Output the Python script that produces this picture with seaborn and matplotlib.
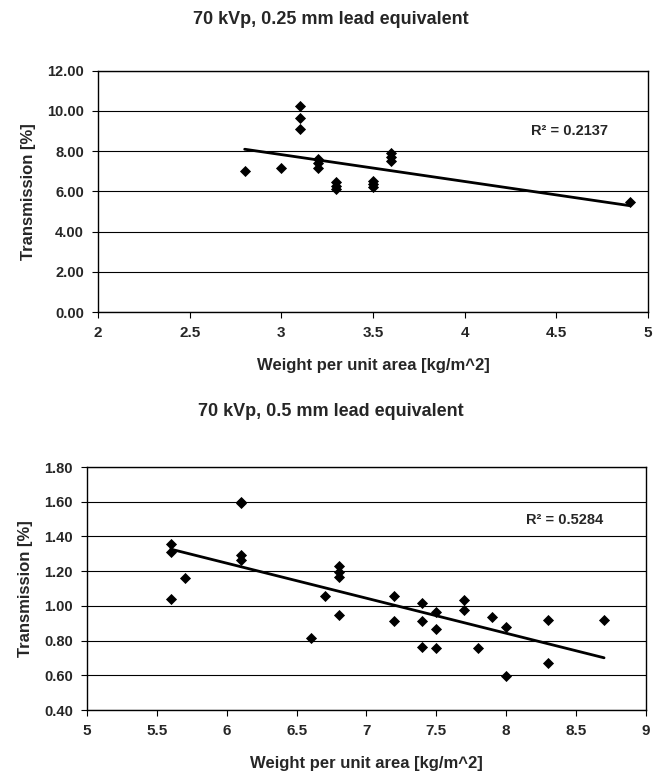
import numpy as np
import pandas as pd
import matplotlib
matplotlib.use("Agg")
import matplotlib.pyplot as plt
import seaborn as sns

# --- Data: 70 kVp, 0.25 mm lead equivalent ---
weight_025 = [2.8, 3.0, 3.1, 3.1, 3.1, 3.2, 3.2, 3.2, 3.3, 3.3, 3.3,
              3.5, 3.5, 3.5, 3.6, 3.6, 3.6, 4.9]
trans_025 = [7.03, 7.14, 10.26, 9.63, 9.07, 7.6, 7.4, 7.15, 6.45, 6.28, 6.1,
             6.5, 6.35, 6.2, 7.9, 7.7, 7.5, 5.45]
r2_025 = "R² = 0.2137"

# --- Data: 70 kVp, 0.5 mm lead equivalent ---
weight_05 = [5.6, 5.6, 5.6, 5.7, 6.1, 6.1, 6.1, 6.1, 6.6, 6.7, 6.8, 6.8, 6.8, 6.8,
             7.2, 7.2, 7.4, 7.4, 7.4, 7.5, 7.5, 7.5, 7.7, 7.7, 7.8, 7.9,
             8.0, 8.0, 8.3, 8.3, 8.7]
trans_05 = [1.357, 1.313, 1.04, 1.161, 1.60, 1.595, 1.294, 1.265, 0.816, 1.056,
            1.232, 1.198, 1.165, 0.95, 1.056, 0.914, 1.019, 0.914, 0.765,
            0.962, 0.866, 0.758, 1.033, 0.975, 0.758, 0.938, 0.877, 0.597,
            0.92, 0.67, 0.92]
r2_05 = "R² = 0.5284"

title_top = "70 kVp, 0.25 mm lead equivalent"
title_bot = "70 kVp, 0.5 mm lead equivalent"
xlabel = "Weight per unit area [kg/m^2]"
ylabel = "Transmission [%]"

xticks_top = [2, 2.5, 3, 3.5, 4, 4.5, 5]
yticks_top = [0, 2, 4, 6, 8, 10, 12]
xticks_bot = [5, 5.5, 6, 6.5, 7, 7.5, 8, 8.5, 9]
yticks_bot = [0.4, 0.6, 0.8, 1.0, 1.2, 1.4, 1.6, 1.8]

sns.set_theme(style="white")
plt.rcParams['font.family'] = ['Liberation Sans', 'DejaVu Sans']

fig = plt.figure(figsize=(6.62, 7.81), dpi=100)
ax1 = fig.add_axes([0.148, 0.6005, 0.831, 0.3092])
ax2 = fig.add_axes([0.1314, 0.0909, 0.8444, 0.3111])

def xfmt(v):
    return f"{v:g}"

def draw(ax, xs, ys, xt, yt, r2, r2pos, title, title_y):
    df = pd.DataFrame({"w": xs, "t": ys})
    sns.regplot(data=df, x="w", y="t", ax=ax, ci=None, color="black",
                marker="D", scatter_kws={"s": 32, "linewidths": 0, "zorder": 3,
                                         "alpha": 1.0},
                line_kws={"lw": 2.0, "zorder": 2})
    ax.set_xlim(xt[0], xt[-1])
    ax.set_ylim(yt[0], yt[-1])
    ax.set_xticks(xt)
    ax.set_yticks(yt)
    ax.set_xticklabels([xfmt(v) for v in xt], fontweight="bold", fontsize=11)
    ax.set_yticklabels([f"{v:.2f}" for v in yt], fontweight="bold", fontsize=10.5)
    ax.yaxis.grid(True, color="black", lw=0.8)
    ax.xaxis.grid(False)
    ax.set_axisbelow(True)
    for s in ax.spines.values():
        s.set_color("black")
        s.set_linewidth(1.0)
    ax.tick_params(axis="both", direction="out", length=4, width=0.8,
                   color="black", bottom=True, left=True, pad=6)
    ax.set_xlabel(xlabel, fontweight="bold", fontsize=12, labelpad=13)
    ax.set_ylabel(ylabel, fontweight="bold", fontsize=12, labelpad=8)
    ax.text(r2pos[0], r2pos[1], r2, fontweight="bold", fontsize=10.5,
            ha="left", va="center")
    fig.text(0.5, title_y, title, ha="center", va="center",
             fontweight="bold", fontsize=13)

draw(ax1, weight_025, trans_025, xticks_top, yticks_top, r2_025, (4.36, 9.0),
     title_top, 1 - 20 / 781)
draw(ax2, weight_05, trans_05, xticks_bot, yticks_bot, r2_05, (8.14, 1.496),
     title_bot, 1 - 412 / 781)

fig.savefig("out.png", dpi=100)
